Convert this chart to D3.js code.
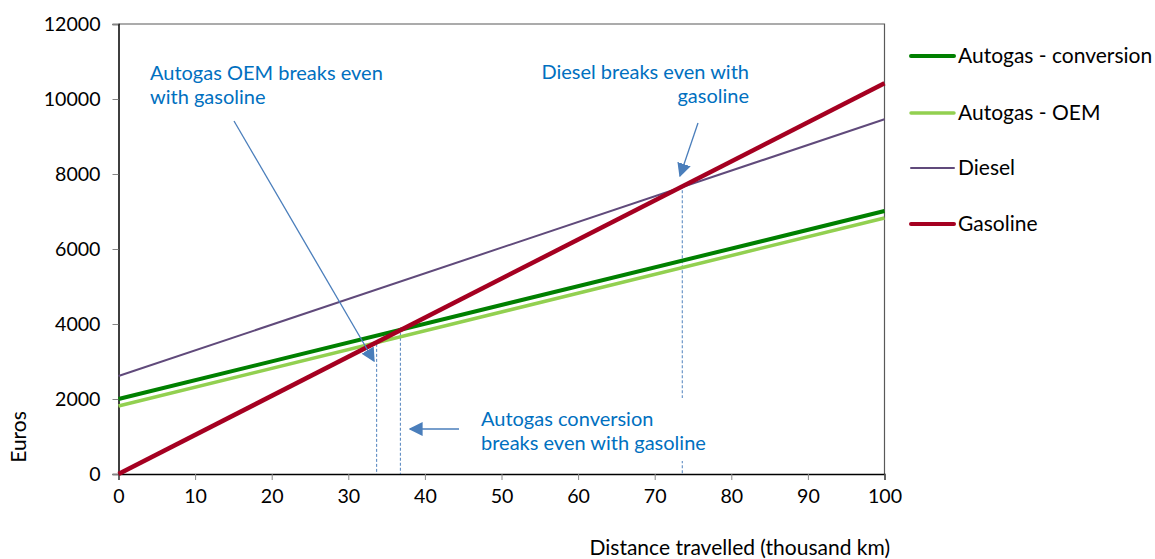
<!DOCTYPE html>
<html><head><meta charset="utf-8">
<script src="https://cdn.jsdelivr.net/npm/d3@7"></script>
<style>body{margin:0;background:#fff;} text{font-family:Lato,"Noto Sans",sans-serif;}</style>
</head><body>
<svg id="c" width="1155" height="559"></svg>
<script>
// ---- data ----
const distances = [0, 100];                 // thousand km
const autogasConversion = [2000, 7013];     // euros
const autogasOEM = [1813, 6827];
const diesel = [2613, 9459];
const gasoline = [0, 10420];
const seriesNames = ["Autogas - conversion", "Autogas - OEM", "Diesel", "Gasoline"];
const xTicks = [0,10,20,30,40,50,60,70,80,90,100];
const yTicks = [0,2000,4000,6000,8000,10000,12000];
const breakEvenX = [33.7, 36.8, 73.6];      // thousand km

const svg = d3.select("#c");
const x = d3.scaleLinear().domain([0,100]).range([118.5,884.5]);
const y = d3.scaleLinear().domain([0,12000]).range([474,24]);

const styles = [
  {color:"#008000", w:4},
  {color:"#92D050", w:3.5},
  {color:"#604A7B", w:2},
  {color:"#A50021", w:4.5}
];
const allSeries = [autogasConversion, autogasOEM, diesel, gasoline];
const tickFont = 19.6, annFont = 20, legFont = 21;

// plot border (top/right)
svg.append("path").attr("d",`M${x(0)},${y(12000)}H${x(100)}V${y(0)}`)
  .attr("fill","none").attr("stroke","#595959").attr("stroke-width",1.2);

// y axis
const ya = svg.append("g").attr("transform",`translate(${x(0)},0)`)
  .call(d3.axisLeft(y).tickValues(yTicks).tickSize(6).tickPadding(12).tickFormat(d3.format("d")));
ya.select(".domain").attr("stroke","#000").attr("stroke-width",1.5);
ya.selectAll(".tick line").attr("stroke","#868686");
ya.selectAll("text").attr("font-size",tickFont).attr("fill","#000").style("font-family","Lato");

// x axis
const xa = svg.append("g").attr("transform",`translate(0,${y(0)})`)
  .call(d3.axisBottom(x).tickValues(xTicks).tickSize(6).tickPadding(9).tickFormat(d3.format("d")));
xa.select(".domain").attr("stroke","#000").attr("stroke-width",1.5);
xa.selectAll(".tick line").attr("stroke","#868686");
xa.selectAll("text").attr("font-size",tickFont).attr("fill","#000").style("font-family","Lato");

// axis titles
svg.append("text").attr("x",890).attr("y",555).attr("text-anchor","end")
  .attr("font-size",legFont).text("Distance travelled (thousand km)");
svg.append("text").attr("transform","translate(26,437) rotate(-90)").attr("text-anchor","middle")
  .attr("font-size",legFont).text("Euros");

// dashed break-even lines
const dashTop = [y(3470), y(3900), y(7700)];
breakEvenX.forEach((d,i)=>{
  svg.append("line").attr("x1",x(d)).attr("x2",x(d)).attr("y1",dashTop[i]).attr("y2",y(0))
    .attr("stroke","#4F81BD").attr("stroke-width",1).attr("stroke-dasharray","3,2");
});

// series lines
const line = d3.line().x((d,i)=>x(distances[i])).y(d=>y(d));
allSeries.forEach((s,i)=>{
  svg.append("path").datum(s).attr("d",line).attr("fill","none")
    .attr("stroke",styles[i].color).attr("stroke-width",styles[i].w);
});

// legend
const legY = [56,113,168,224];
seriesNames.forEach((n,i)=>{
  svg.append("line").attr("x1",911).attr("x2",954).attr("y1",legY[i]).attr("y2",legY[i])
    .attr("stroke",styles[i].color).attr("stroke-width",Math.min(styles[i].w,4)).attr("stroke-linecap","round");
  svg.append("text").attr("x",958).attr("y",legY[i]).attr("dy","0.35em")
    .attr("font-size",legFont).attr("fill","#000").text(n);
});

// arrows
const defs = svg.append("defs");
defs.append("marker").attr("id","ah").attr("viewBox","0 0 10 10").attr("refX",9).attr("refY",5)
  .attr("markerWidth",14).attr("markerHeight",14).attr("markerUnits","userSpaceOnUse").attr("orient","auto")
  .append("path").attr("d","M0,0L10,5L0,10z").attr("fill","#4A7EBB");
function arrow(x1,y1,x2,y2){
  svg.append("line").attr("x1",x1).attr("y1",y1).attr("x2",x2).attr("y2",y2)
    .attr("stroke","#4A7EBB").attr("stroke-width",1.3).attr("marker-end","url(#ah)");
}
arrow(234,121,374,361);
arrow(698,123,680,176);
arrow(459,429,410,429);

// annotation texts
const blue = "#0070C0";
function ann(lines, xx, yy, anchor){
  const t = svg.append("text").attr("x",xx).attr("y",yy).attr("text-anchor",anchor)
    .attr("font-size",annFont).attr("fill",blue);
  lines.forEach((l,i)=>t.append("tspan").attr("x",xx).attr("dy",i?24:0).text(l));
  return t;
}
svg.append("rect").attr("x",476).attr("y",398).attr("width",240).attr("height",63).attr("fill","#fff");
ann(["Autogas OEM breaks even","with gasoline"],150,80,"start");
ann(["Diesel breaks even with","gasoline"],749,79,"end");
ann(["Autogas conversion","breaks even with gasoline"],481,426,"start");
</script>
</body></html>
